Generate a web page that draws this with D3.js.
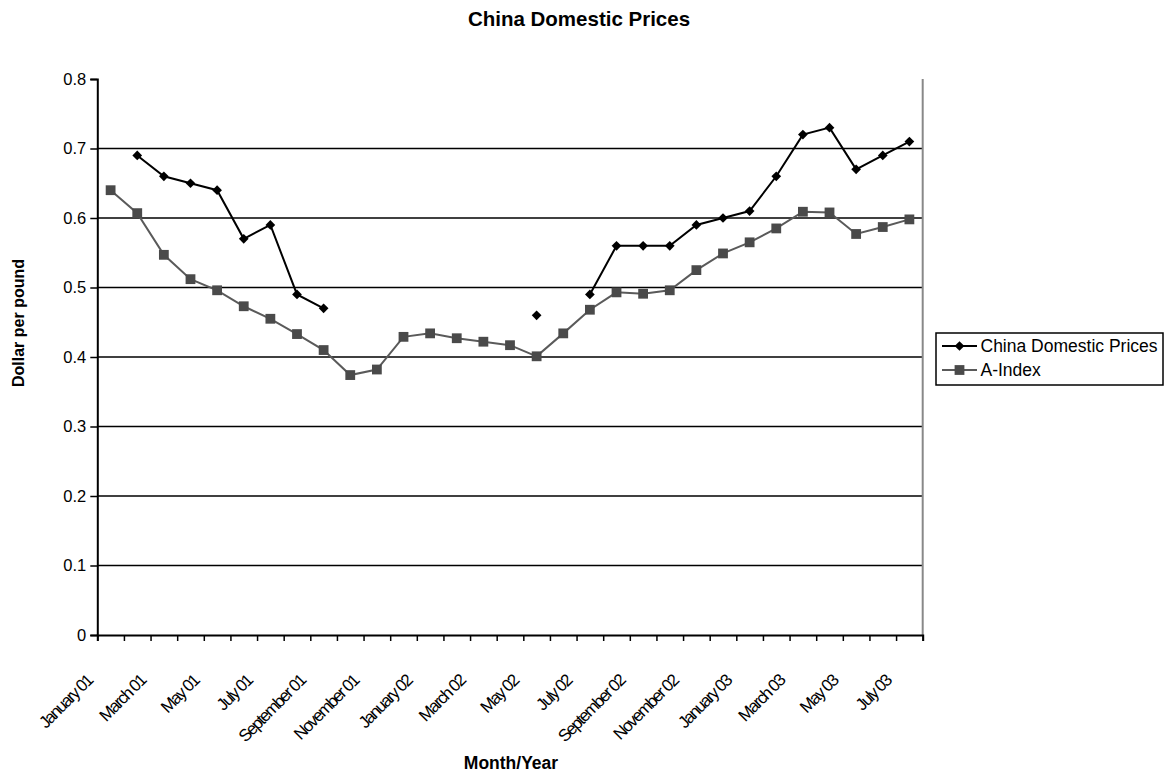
<!DOCTYPE html>
<html>
<head>
<meta charset="utf-8">
<script src="https://cdn.jsdelivr.net/npm/d3@7"></script>
<style>
  html, body { margin: 0; padding: 0; background: #fff; }
  svg { display: block; font-family: "Liberation Sans", Arial, sans-serif; }
</style>
</head>
<body>
<svg id="chart" width="1169" height="776"></svg>
<script>
// ---- data ----
const months = [
  "January 01","February 01","March 01","April 01","May 01","June 01","July 01","August 01",
  "September 01","October 01","November 01","December 01",
  "January 02","February 02","March 02","April 02","May 02","June 02","July 02","August 02",
  "September 02","October 02","November 02","December 02",
  "January 03","February 03","March 03","April 03","May 03","June 03","July 03"
];
const chinaPrices = [
  null, 0.69, 0.66, 0.65, 0.64, 0.57, 0.59, 0.49, 0.47, null, null, null,
  null, null, null, null, 0.46, null, 0.49, 0.56, 0.56, 0.56, 0.59, 0.60,
  0.61, 0.66, 0.72, 0.73, 0.67, 0.69, 0.71
];
const aIndex = [
  0.640, 0.607, 0.547, 0.512, 0.496, 0.473, 0.455, 0.433, 0.410, 0.374, 0.382, 0.429,
  0.434, 0.427, 0.422, 0.417, 0.401, 0.434, 0.468, 0.493, 0.491, 0.496, 0.525, 0.549,
  0.565, 0.585, 0.609, 0.608, 0.577, 0.587, 0.598
];
const yTicks = [0, 0.1, 0.2, 0.3, 0.4, 0.5, 0.6, 0.7, 0.8];
const seriesNames = ["China Domestic Prices", "A-Index"];

// ---- layout ----
const svg = d3.select("#chart");
const plotLeft = 97.3, plotRight = 922.7, plotTop = 79, plotBottom = 635;

const x = d3.scaleLinear().domain([0, months.length]).range([plotLeft, plotRight]);
const y = d3.scaleLinear().domain([0, 0.8]).range([plotBottom, plotTop]);
const cx = i => x(i + 0.5);

// gridlines
svg.append("g").selectAll("line")
  .data(yTicks.filter(v => v > 0 && v < 0.8))
  .join("line")
  .attr("x1", plotLeft).attr("x2", plotRight)
  .attr("y1", d => y(d)).attr("y2", d => y(d))
  .attr("stroke", "#000").attr("stroke-width", 1.3);

// right border (gray)
svg.append("line")
  .attr("x1", plotRight).attr("x2", plotRight).attr("y1", y(0.8)).attr("y2", y(0))
  .attr("stroke", "#888").attr("stroke-width", 2);

// y axis
const yAxis = svg.append("g")
  .attr("transform", `translate(${plotLeft},0)`)
  .call(d3.axisLeft(y).tickValues(yTicks).tickSize(7).tickPadding(4)
        .tickFormat(d => d === 0 ? "0" : d3.format(".1f")(d)));
yAxis.select(".domain").attr("stroke", "#000").attr("stroke-width", 2);
yAxis.selectAll(".tick line").attr("stroke", "#000").attr("stroke-width", 1.5);
yAxis.selectAll(".tick text").attr("font-size", 16.5).attr("fill", "#000")
  .attr("font-family", "Liberation Sans, Arial, sans-serif");

// x axis (ticks at category boundaries)
const xAxis = svg.append("g")
  .attr("transform", `translate(0,${plotBottom})`)
  .call(d3.axisBottom(x).tickValues(d3.range(0, months.length + 1)).tickSize(6).tickFormat(""));
xAxis.select(".domain").attr("stroke", "#000").attr("stroke-width", 2);
xAxis.selectAll(".tick line").attr("stroke", "#000").attr("stroke-width", 1.5);

// x tick labels (every other month), rotated
svg.append("g").selectAll("text")
  .data(months.map((m, i) => ({m, i})).filter(d => d.i % 2 === 0))
  .join("text")
  .attr("transform", d => `translate(${cx(d.i) - 21},${678}) rotate(-45)`)
  .attr("text-anchor", "end")
  .attr("dominant-baseline", "central")
  .attr("font-size", 17)
  .attr("letter-spacing", "-1.7px")
  .attr("fill", "#000")
  .text(d => d.m);

// lines
const lineGen = d3.line()
  .defined(d => d.v !== null)
  .x(d => cx(d.i))
  .y(d => y(d.v));

const aData = aIndex.map((v, i) => ({v, i}));
const cData = chinaPrices.map((v, i) => ({v, i}));

svg.append("path").datum(aData)
  .attr("d", lineGen).attr("fill", "none")
  .attr("stroke", "#5a5a5a").attr("stroke-width", 2);
svg.append("g").selectAll("path")
  .data(aData.filter(d => d.v !== null))
  .join("path")
  .attr("transform", d => `translate(${cx(d.i)},${y(d.v)})`)
  .attr("d", d3.symbol().type(d3.symbolSquare).size(96))
  .attr("fill", "#4a4a4a");

svg.append("path").datum(cData)
  .attr("d", lineGen).attr("fill", "none")
  .attr("stroke", "#000").attr("stroke-width", 2);
svg.append("g").selectAll("path")
  .data(cData.filter(d => d.v !== null))
  .join("path")
  .attr("transform", d => `translate(${cx(d.i)},${y(d.v)})`)
  .attr("d", d3.symbol().type(d3.symbolDiamond2).size(60))
  .attr("fill", "#000");

// title and axis titles
svg.append("text")
  .attr("x", 579).attr("y", 25.5)
  .attr("text-anchor", "middle")
  .attr("font-size", 20.5).attr("font-weight", "bold")
  .text("China Domestic Prices");

svg.append("text")
  .attr("x", 511).attr("y", 769)
  .attr("text-anchor", "middle")
  .attr("font-size", 17.5).attr("font-weight", "bold")
  .text("Month/Year");

svg.append("text")
  .attr("transform", "translate(24,323) rotate(-90)")
  .attr("text-anchor", "middle")
  .attr("font-size", 16).attr("font-weight", "bold")
  .text("Dollar per pound");

// legend
const lg = svg.append("g");
lg.append("rect")
  .attr("x", 936).attr("y", 333).attr("width", 227).attr("height", 52)
  .attr("fill", "#fff").attr("stroke", "#000").attr("stroke-width", 1.5);
const legendRows = [
  {name: seriesNames[0], stroke: "#000", fill: "#000", sym: d3.symbolDiamond2, size: 60, yy: 346},
  {name: seriesNames[1], stroke: "#5a5a5a", fill: "#4a4a4a", sym: d3.symbolSquare, size: 96, yy: 370}
];
legendRows.forEach(r => {
  lg.append("line").attr("x1", 942).attr("x2", 977).attr("y1", r.yy).attr("y2", r.yy)
    .attr("stroke", r.stroke).attr("stroke-width", 2);
  lg.append("path").attr("transform", `translate(959.5,${r.yy})`)
    .attr("d", d3.symbol().type(r.sym).size(r.size)).attr("fill", r.fill);
  lg.append("text").attr("x", 980.5).attr("y", r.yy)
    .attr("dominant-baseline", "central")
    .attr("font-size", 17.5).attr("fill", "#000")
    .text(r.name);
});
</script>
</body>
</html>
